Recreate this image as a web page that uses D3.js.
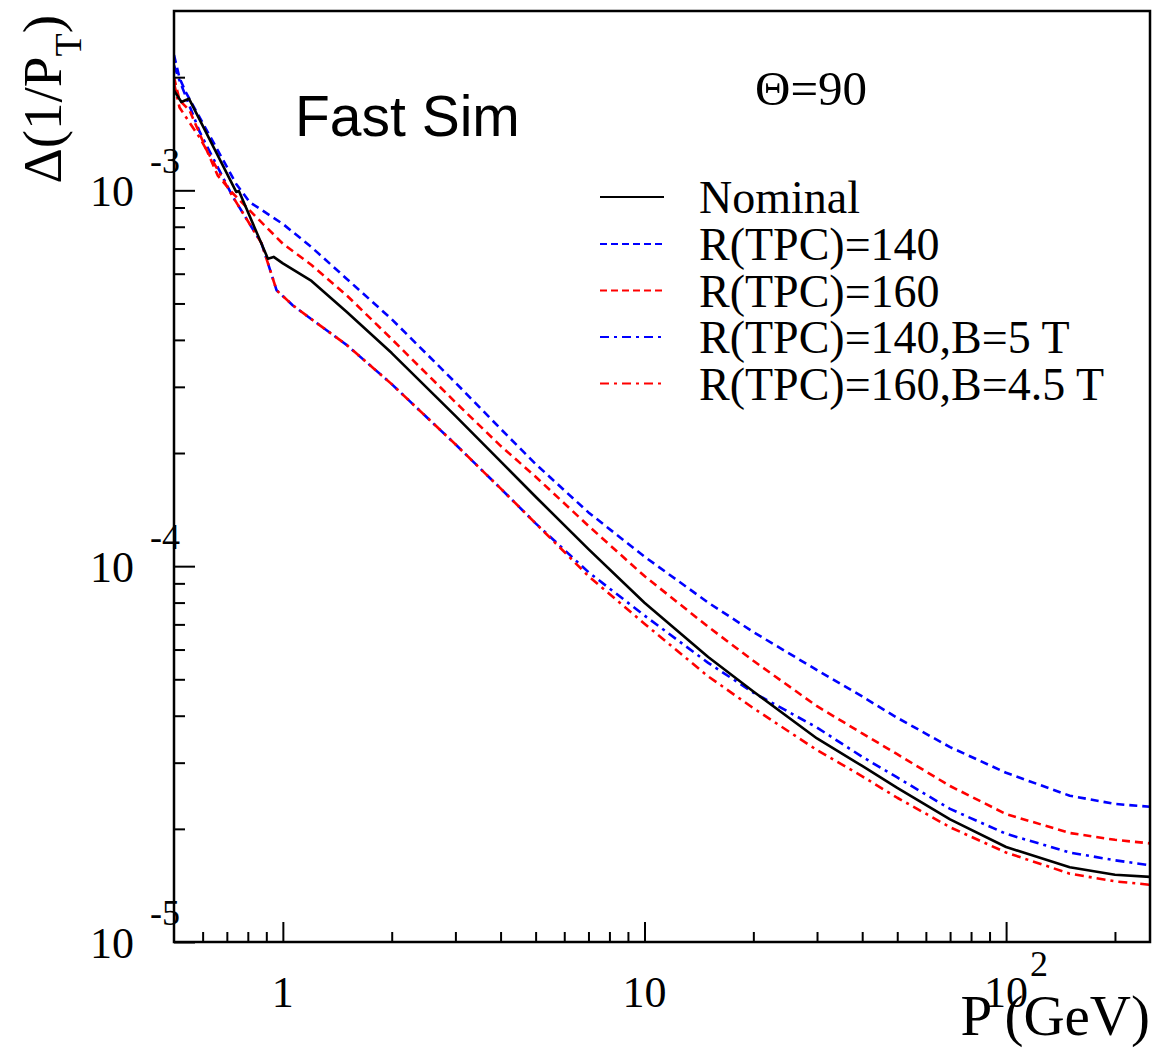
<!DOCTYPE html>
<html>
<head>
<meta charset="utf-8">
<script src="https://cdn.jsdelivr.net/npm/d3@7"></script>
<style>
  html, body { margin: 0; padding: 0; background: #fff; }
  svg { display: block; }
</style>
</head>
<body>
<svg id="chart" width="1152" height="1048"></svg>
<script>
// ---------------- data ----------------
const seriesNames = ["Nominal", "R(TPC)=140", "R(TPC)=160", "R(TPC)=140,B=5 T", "R(TPC)=160,B=4.5 T"];
const seriesColors = ["#000000", "#0000ff", "#ff0000", "#0000ff", "#ff0000"];
const seriesStyles = ["solid", "dashed", "dashed", "dashdot", "dashdot"];

// P (GeV) and Delta(1/P_T) for each curve
const pNominal = [0.5, 0.524, 0.55, 0.743, 0.756, 0.909, 0.943, 1, 1.2, 1.5, 2, 3, 4, 5, 7, 10, 15, 20, 30, 40, 50, 70, 100, 150, 200, 250];
const vNominal = [1.845e-3, 1.718e-3, 1.753e-3, 9.90e-4, 9.96e-4, 6.58e-4, 6.65e-4, 6.39e-4, 5.74e-4, 4.75e-4, 3.69e-4, 2.51e-4, 1.90e-4, 1.53e-4, 1.11e-4, 7.99e-5, 5.73e-5, 4.64e-5, 3.48e-5, 2.94e-5, 2.57e-5, 2.12e-5, 1.79e-5, 1.58e-5, 1.51e-5, 1.49e-5];

const pR140 = [0.5, 0.518, 0.538, 0.743, 0.81, 1, 1.2, 1.5, 2, 3, 4, 5, 7, 10, 15, 20, 30, 40, 50, 70, 100, 150, 200, 250];
const vR140 = [2.29e-3, 1.99e-3, 1.83e-3, 1.04e-3, 9.3e-4, 8.14e-4, 7.06e-4, 5.82e-4, 4.54e-4, 3.08e-4, 2.32e-4, 1.87e-4, 1.39e-4, 1.06e-4, 8.00e-5, 6.68e-5, 5.29e-5, 4.50e-5, 3.95e-5, 3.30e-5, 2.82e-5, 2.45e-5, 2.33e-5, 2.29e-5];

const pR160 = [0.5, 0.518, 0.552, 0.66, 0.727, 0.835, 1, 1.2, 1.5, 2, 3, 4, 5, 7, 10, 15, 20, 30, 40, 50, 70, 100, 150, 200, 250];
const vR160 = [2.0e-3, 1.735e-3, 1.632e-3, 1.096e-3, 9.82e-4, 8.58e-4, 7.21e-4, 6.33e-4, 5.26e-4, 4.02e-4, 2.73e-4, 2.09e-4, 1.73e-4, 1.28e-4, 9.41e-5, 6.90e-5, 5.60e-5, 4.24e-5, 3.59e-5, 3.16e-5, 2.60e-5, 2.19e-5, 1.95e-5, 1.87e-5, 1.83e-5];

const pR140B5 = [0.5, 0.518, 0.589, 0.726, 0.873, 0.961, 1.066, 1.2, 1.5, 2, 3, 4, 5, 7, 10, 15, 20, 30, 40, 50, 70, 100, 150, 200, 250];
const vR140B5 = [2.15e-3, 1.96e-3, 1.43e-3, 9.64e-4, 7.23e-4, 5.42e-4, 4.94e-4, 4.54e-4, 3.88e-4, 3.05e-4, 2.11e-4, 1.61e-4, 1.30e-4, 9.64e-5, 7.39e-5, 5.53e-5, 4.61e-5, 3.72e-5, 3.11e-5, 2.74e-5, 2.26e-5, 1.94e-5, 1.73e-5, 1.65e-5, 1.60e-5];

const pR160B45 = [0.5, 0.518, 0.589, 0.726, 0.873, 0.961, 1.066, 1.2, 1.5, 2, 3, 4, 5, 7, 10, 15, 20, 30, 40, 50, 70, 100, 150, 200, 250];
const vR160B45 = [1.93e-3, 1.66e-3, 1.38e-3, 9.64e-4, 7.23e-4, 5.42e-4, 4.94e-4, 4.54e-4, 3.88e-4, 3.05e-4, 2.11e-4, 1.61e-4, 1.30e-4, 9.41e-5, 7.03e-5, 5.09e-5, 4.19e-5, 3.24e-5, 2.76e-5, 2.42e-5, 2.02e-5, 1.73e-5, 1.52e-5, 1.45e-5, 1.42e-5];

const xMajorTicks = [1, 10, 100];
const xMajorLabels = ["1", "10", "10"];
const xMajorExps = ["", "", "2"];
const xMinorTicks = [0.6, 0.7, 0.8, 0.9, 2, 3, 4, 5, 6, 7, 8, 9, 20, 30, 40, 50, 60, 70, 80, 90, 200];
const yMajorTicks = [1e-5, 1e-4, 1e-3];
const yMajorExps = ["-5", "-4", "-3"];
const yMinorTicks = [2e-5, 3e-5, 4e-5, 5e-5, 6e-5, 7e-5, 8e-5, 9e-5, 2e-4, 3e-4, 4e-4, 5e-4, 6e-4, 7e-4, 8e-4, 9e-4, 2e-3];

const xTitle = "P (GeV)";
const annotation = "Θ=90";
const simLabel = "Fast Sim";

// ---------------- layout ----------------
const L = 174, R = 1150, T = 11, B = 942;
const serif = "'Liberation Serif', 'Times New Roman', serif";
const sans = "'Liberation Sans', Arial, sans-serif";

const svg = d3.select("#chart");
const x = d3.scaleLog().domain([0.5, 250]).range([L, R]);
const y = d3.scaleLog().domain([1e-5, 3e-3]).range([B, T]);

const dashFor = s => s === "dashed" ? "8,5" : (s === "dashdot" ? "9,5,3,5" : null);

const seriesP = [pNominal, pR140, pR160, pR140B5, pR160B45];
const seriesV = [vNominal, vR140, vR160, vR140B5, vR160B45];
const series = seriesNames.map((name, i) => ({
  name, color: seriesColors[i], style: seriesStyles[i],
  points: seriesP[i].map((p, j) => ({ p, v: seriesV[i][j] }))
}));

svg.append("defs").append("clipPath").attr("id", "clip")
  .append("rect").attr("x", L).attr("y", T).attr("width", R - L).attr("height", B - T);

// curves (solid drawn last so it is on top)
const line = d3.line().x(d => x(d.p)).y(d => y(d.v));
const drawOrder = [3, 4, 1, 2, 0];
const gCurves = svg.append("g").attr("clip-path", "url(#clip)");
drawOrder.forEach(i => {
  const s = series[i];
  gCurves.append("path")
    .datum(s.points)
    .attr("d", line)
    .attr("fill", "none")
    .attr("stroke", s.color)
    .attr("stroke-width", 2.6)
    .attr("stroke-dasharray", dashFor(s.style))
    .attr("stroke-linejoin", "round");
});

// axes (ticks pointing inward)
const axisStyle = g => {
  g.select(".domain").remove();
  g.selectAll(".tick line").attr("stroke", "#000").attr("stroke-width", 2);
  g.selectAll(".tick text").remove();
};
svg.append("g").attr("transform", `translate(0,${B})`)
  .call(d3.axisBottom(x).tickValues(xMinorTicks).tickSize(-10).tickFormat(""))
  .call(axisStyle);
svg.append("g").attr("transform", `translate(0,${B})`)
  .call(d3.axisBottom(x).tickValues(xMajorTicks).tickSize(-20).tickFormat(""))
  .call(axisStyle);
svg.append("g").attr("transform", `translate(${L},0)`)
  .call(d3.axisLeft(y).tickValues(yMinorTicks).tickSize(-11).tickFormat(""))
  .call(axisStyle);
svg.append("g").attr("transform", `translate(${L},0)`)
  .call(d3.axisLeft(y).tickValues(yMajorTicks).tickSize(-21).tickFormat(""))
  .call(axisStyle);

// frame
svg.append("rect").attr("x", L).attr("y", T).attr("width", R - L).attr("height", B - T)
  .attr("fill", "none").attr("stroke", "#000").attr("stroke-width", 2.5);

// x tick labels
xMajorTicks.forEach((t, i) => {
  svg.append("text").attr("x", x(t)).attr("y", 1007)
    .attr("text-anchor", "middle").attr("font-family", serif).attr("font-size", 44)
    .text(xMajorLabels[i]);
  if (xMajorExps[i]) {
    svg.append("text").attr("x", x(t) + 24).attr("y", 976)
      .attr("font-family", serif).attr("font-size", 36)
      .text(xMajorExps[i]);
  }
});

// y tick labels (10 with exponent)
yMajorTicks.forEach((t, i) => {
  svg.append("text").attr("x", 134).attr("y", y(t) + 16)
    .attr("text-anchor", "end").attr("font-family", serif).attr("font-size", 44)
    .text("10");
  svg.append("text").attr("x", 180).attr("y", y(t) - 17)
    .attr("text-anchor", "end").attr("font-family", serif).attr("font-size", 36)
    .text(yMajorExps[i]);
});

// axis titles
svg.append("text").attr("x", R).attr("y", 1035)
  .attr("text-anchor", "end").attr("font-family", serif).attr("font-size", 57)
  .text(xTitle);

const yt = svg.append("text")
  .attr("transform", "translate(61,15) rotate(-90)")
  .attr("text-anchor", "end").attr("font-family", serif).attr("font-size", 55);
yt.append("tspan").text("Δ(1/P");
yt.append("tspan").attr("font-size", 38).attr("dy", 20).text("T");
yt.append("tspan").attr("dy", -20).text(")");

// annotations
svg.append("text").attr("x", 755).attr("y", 105)
  .attr("font-family", serif).attr("font-size", 49).text(annotation);
svg.append("text").attr("x", 295).attr("y", 136)
  .attr("font-family", sans).attr("font-size", 57).text(simLabel);

// legend
const legendRows = [197, 244, 290.5, 337, 383.5];
series.forEach((s, i) => {
  const ly = legendRows[i];
  svg.append("line").attr("x1", 600).attr("x2", 664).attr("y1", ly).attr("y2", ly)
    .attr("stroke", s.color).attr("stroke-width", 2.2)
    .attr("stroke-dasharray", s.style === "dashed" ? "7,4" : (s.style === "dashdot" ? "9,5,3,5" : null));
  svg.append("text").attr("x", 699).attr("y", ly + 16)
    .attr("font-family", serif).attr("font-size", 46).text(s.name);
});
</script>
</body>
</html>
